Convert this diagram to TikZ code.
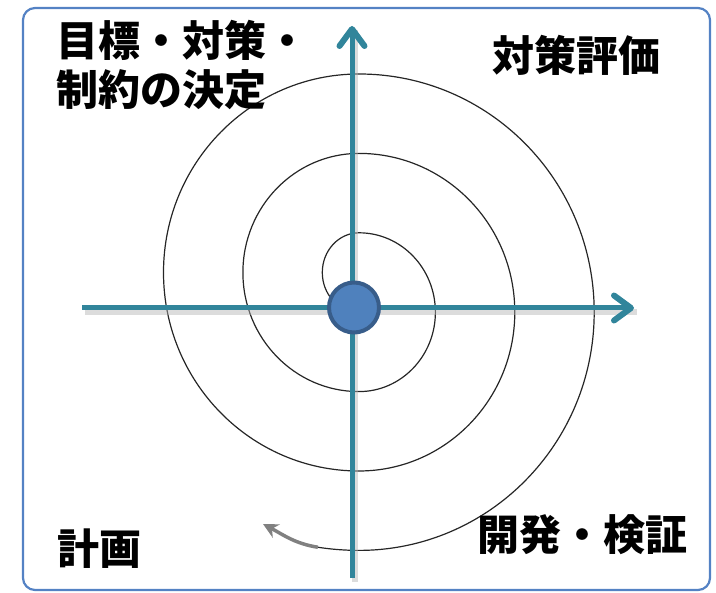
\documentclass[tikz,border=0pt]{standalone}
\usepackage{fontspec}
\usepackage{tikz}
\usetikzlibrary{positioning,arrows.meta}
\newfontfamily\jpFont{Noto Sans CJK JP}
\definecolor{axisColor}{RGB}{49,133,155}
\definecolor{frameColor}{RGB}{84,130,196}
\definecolor{hubFill}{RGB}{79,129,189}
\definecolor{hubBorder}{RGB}{56,93,138}
\definecolor{arrowGray}{RGB}{128,128,128}
\tikzstyle{diagram} = [x = 1pt, y = 1pt]
\tikzstyle{frameStyle} = [color=frameColor, line width=2.2pt, rounded corners=12pt]
\tikzstyle{axisLine} = [color=axisColor, line width=5pt, -{Straight Barb[length=17pt, width=25pt, line width=6pt, round]}]
\tikzstyle{axisShadow} = [color=black!30, opacity=0.45, line width=6pt, transform canvas={shift={(3pt,-4pt)}}]
\tikzstyle{spiralLine} = [color=black!85, line width=1.2pt]
\tikzstyle{cycleArrow} = [color=arrowGray, line width=3.5pt, -{Stealth[length=15pt, width=15pt]}]
\tikzstyle{hubStyle} = [circle, fill=hubFill, draw=hubBorder, line width=4pt, minimum size=50pt, inner sep=0pt]
\tikzstyle{phaseText} = [font=\jpFont\bfseries\fontsize{42}{49}\selectfont, inner sep=0pt, text=black]
\newcommand{\spiralStep}{39.7}
\newcommand{\spiralSquash}{3}

\begin{document}
\begin{tikzpicture}[diagram]
  \useasboundingbox (0,0) rectangle (716,-593);
  \draw [frameStyle] (23,-8) rectangle (710,-590);
  % spiral, half turns round two centres
  \coordinate (spiralStart) at (359,-312.2);
  \draw [spiralLine] (spiralStart)
    \foreach \turn in {1,3,5} {
      arc [start angle=-90, end angle=-270, x radius=\turn*\spiralStep-\spiralSquash, y radius=\turn*\spiralStep]
      arc [start angle=90, end angle=-90, x radius=(\turn+1)*\spiralStep-\spiralSquash, y radius=(\turn+1)*\spiralStep]
    }
    arc [start angle=-90, end angle=-98.6, x radius=7*\spiralStep-\spiralSquash, y radius=7*\spiralStep] coordinate (spiralEnd);
  \coordinate (arrowTip) at (263,-524);
  \draw [cycleArrow] (spiralEnd) to [out=171, in=-28] (arrowTip);
  % axes
  \coordinate (axisWest) at (82,-308);
  \coordinate (axisEast) at (634,-308);
  \coordinate (axisSouth) at (352,-578);
  \coordinate (axisNorth) at (352,-26);
  \draw [axisShadow] (axisWest) -- (axisEast);
  \draw [axisShadow] (axisSouth) -- (axisNorth);
  \draw [axisLine] (axisWest) -- (axisEast);
  \draw [axisLine] (axisSouth) -- (axisNorth);
  \node [hubStyle] (hub) at (354,-307.5) {};
  % phase labels
  \node [phaseText, anchor=west, align=left] (goals) at (56,-65.5) {目標・対策・\\制約の決定};
  \node [phaseText] (evaluation) at (576.5,-55) {対策評価};
  \node [phaseText] (planning) at (99,-549) {計画};
  \node [phaseText] (development) at (582,-535) {開発・検証};
\end{tikzpicture}
\end{document}
